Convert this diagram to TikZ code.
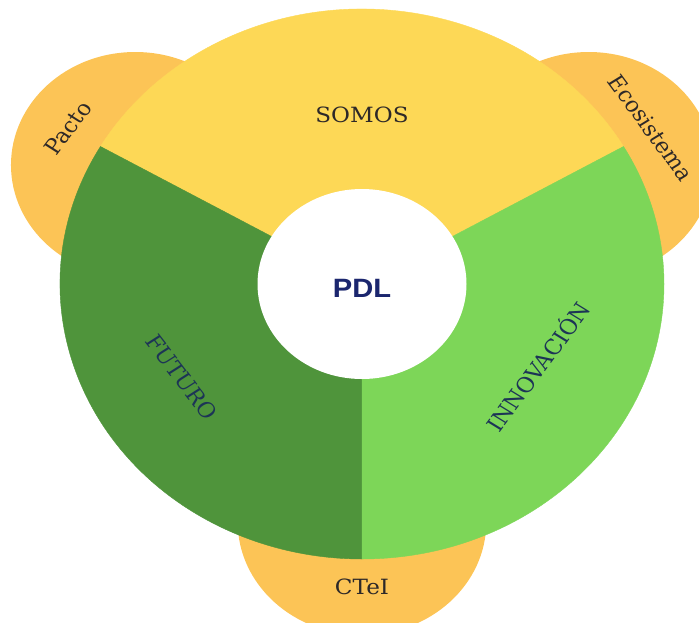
\documentclass[tikz,border=0pt]{standalone}
\usepackage{fontspec}
\newfontfamily\labelfont{DejaVu Serif}
\newfontfamily\pdlfont{Liberation Sans}
\definecolor{somosyellow}{RGB}{253,216,86}
\definecolor{futurogreen}{RGB}{79,148,59}
\definecolor{innovgreen}{RGB}{125,214,88}
\definecolor{petalorange}{RGB}{252,196,86}
\definecolor{labelnavy}{RGB}{28,52,86}
\definecolor{pdlnavy}{RGB}{27,38,110}
\definecolor{labelgray}{RGB}{45,40,40}

\begin{document}
\begin{tikzpicture}[x=1pt,y=1pt]
    \newcommand{\cenx}{362}
    \newcommand{\ceny}{-284}
    \newcommand{\outrx}{302} % outer radii of the wheel
    \newcommand{\outry}{275}
    \newcommand{\inrx}{104.5} % radii of the white hole
    \newcommand{\inry}{95}
    \newcommand{\petd}{238} % distance of the side circles from the centre
    \newcommand{\petr}{113} % radius of the side circles

    % set the style of the labels
    \tikzset{
        lbl/.style={
            font=\fontsize{21}{21}\selectfont\labelfont,
            text=labelgray,
            inner sep=0pt,
            xscale=1.1
            },
        hub/.style={
            font=\fontsize{26.5}{26.5}\selectfont\pdlfont\bfseries,
            text=pdlnavy,
            inner sep=0pt,
            xscale=1.1
            }
    }

    \useasboundingbox (0,0) rectangle (699,-622);
    \clip (0,0) rectangle (699,-622);

    % side circles
    \foreach \a in {30,150,270}
        \fill[petalorange] ({\cenx+1.1*\petd*cos(\a)},{\ceny+\petd*sin(\a)}) ellipse [x radius=1.1*\petr, y radius=\petr];

    % wheel sectors
    \foreach \a/\col in {30/somosyellow,150/futurogreen,270/innovgreen}
        \filldraw[fill=\col, draw=\col, line width=0.4pt] (\cenx,\ceny) -- +({\outrx*cos(\a)},{\outry*sin(\a)}) arc [start angle=\a, delta angle=120, x radius=\outrx, y radius=\outry] -- cycle;

    % white hole
    \fill[white] (\cenx,\ceny) ellipse [x radius=\inrx, y radius=\inry];

    % labels
    \node[hub] (pdl) at (\cenx,-288) {PDL};
    \node[lbl] (somos) at (362,-115) {SOMOS};
    \node[lbl, text=labelnavy, rotate=-55] (futuro) at (182,-377) {FUTURO};
    \node[lbl, text=labelnavy, rotate=56] (innov) at (537,-366) {INNOVACIÓN};
    \node[lbl, rotate=55] (pacto) at (68,-128) {Pacto};
    \node[lbl, rotate=-56] (ecosis) at (651,-128) {Ecosistema};
    \node[lbl] (ctei) at (362,-587) {CTeI};

\end{tikzpicture}
\end{document}
